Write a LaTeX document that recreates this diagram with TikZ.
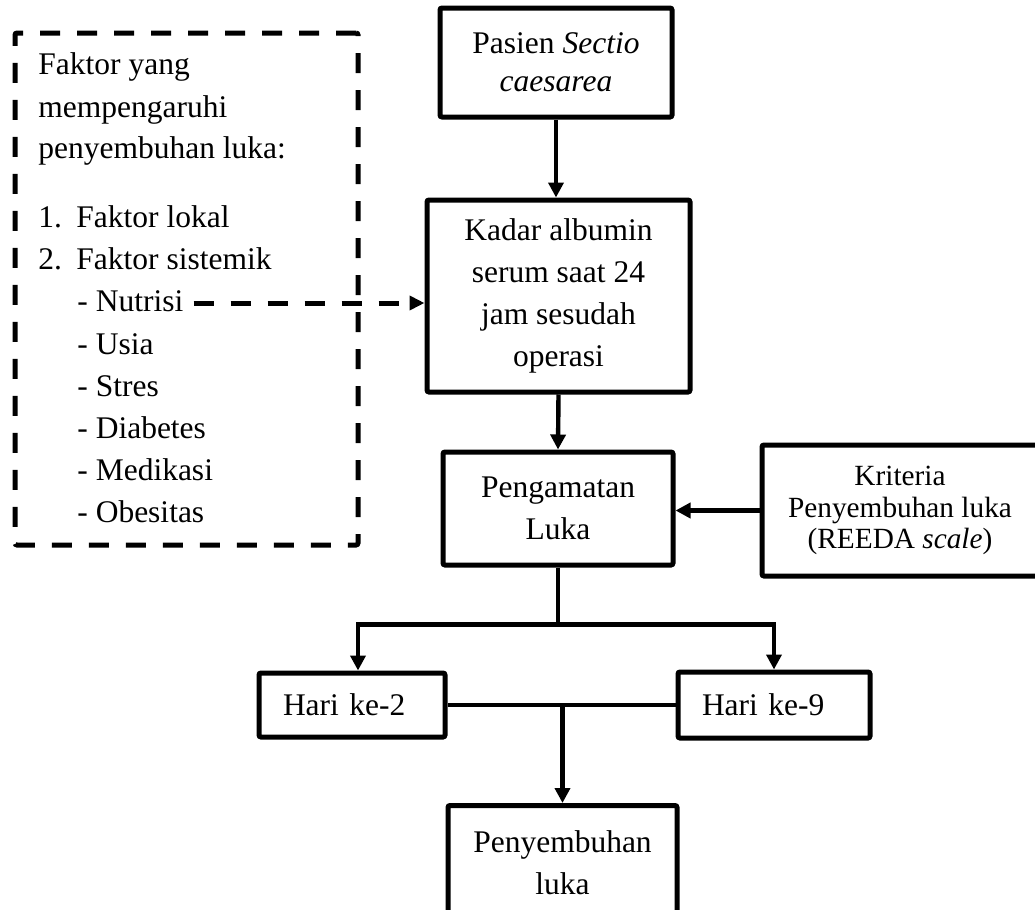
\documentclass[tikz,border=0pt]{standalone}
\usepackage{fontspec}
\setmainfont{Liberation Serif}
\usetikzlibrary{arrows.meta,positioning,calc}
\newcommand{\txtsize}{\fontsize{15.75pt}{21pt}\selectfont}
\newcommand{\krsize}{\fontsize{14.65pt}{15.75pt}\selectfont}
\tikzset{
  blk/.style={draw, line width=2.5pt, rounded corners=1pt, align=center, inner sep=0pt, font=\txtsize},
  blkl/.style={blk, align=left, inner xsep=12pt, inner ysep=0pt, text width=#1},
  dashblk/.style={draw, line width=2.5pt, rounded corners=1pt, dash pattern=on 10pt off 8.5pt},
  ln/.style={line width=2.2pt},
  ar/.style={ln, -{Triangle[length=7.5pt,width=7.5pt]}},
  dar/.style={line width=2.5pt, dash pattern=on 10pt off 8.5pt, -{Triangle[length=7.5pt,width=7pt]}},
  lbl/.style={font=\txtsize, inner sep=0pt, anchor=base west},
}
\begin{document}
\begin{tikzpicture}[x=0.5pt,y=-0.5pt]
    \useasboundingbox (0,0) rectangle (1035,910);
    % faktor yang mempengaruhi
    \node[dashblk, minimum width=171.5pt, minimum height=256pt] (fak) at (186.5,289) {};
    \foreach \x/\y/\t [count=\i] in {38/75/Faktor yang, 38/117/mempengaruhi, 38/158/penyembuhan luka:,
      38/227/{\makebox[19pt][l]{1.}Faktor lokal}, 38/269/{\makebox[19pt][l]{2.}Faktor sistemik},
      77/311/- Nutrisi, 77/354/- Usia, 77/396/- Stres, 77/438/- Diabetes, 77/480/- Medikasi, 77/522/- Obesitas}{
      \node[lbl] (f\i) at (\x,\y) {\t};
    }
    % alur utama
    \node[blk, font=\fontsize{15.75pt}{19pt}\selectfont, minimum width=116pt, minimum height=54.5pt] (pasien) at (556,62.5) {Pasien \textit{Sectio}\\\textit{caesarea}};
    \node[blk, minimum width=131.5pt, minimum height=96pt] (kadar) at (558.5,296) {Kadar albumin\\serum saat 24\\jam sesudah\\operasi};
    \node[blk, minimum width=115pt, minimum height=56.5pt] (peng) at (558,508.5) {Pengamatan\\Luka};
    \node[blk, font=\krsize, minimum width=138pt, minimum height=65.5pt] (krit) at (900,510.5) {Kriteria\\Penyembuhan luka\\(REEDA \textit{scale})};
    \node[blkl=69pt, minimum height=32pt] (hari2) at (352,705) {Hari ke-2};
    \node[blkl=72pt, minimum height=33pt] (hari9) at (774,705) {Hari ke-9};
    \node[blk, anchor=north, minimum width=114.5pt, minimum height=57pt] (peny) at (562.5,803) {Penyembuhan\\luka};
    \coordinate[below=28.5pt of peng.south] (split);
    \coordinate (join) at (hari2.east -| peny.north);
    \coordinate (nutr) at ($(f6.base east)+(10,-8)$);
    % panah
    \draw[ar] (pasien.south) -- (pasien.south |- kadar.north);
    \draw[dar] (nutr) -- (nutr -| kadar.west);
    \draw[ar] (kadar.south) -- (peng.north);
    \draw[ar] (krit.west) -- (krit.west -| peng.east);
    \draw[ln] (peng.south) -- (split);
    \draw[ar] (split) -| ([xshift=3pt]hari2.north);
    \draw[ar] (split) -| (hari9.north);
    \draw[ln] (hari2.east) -- (hari9.west);
    \draw[ar] (join) -- (peny.north);
\end{tikzpicture}
\end{document}
